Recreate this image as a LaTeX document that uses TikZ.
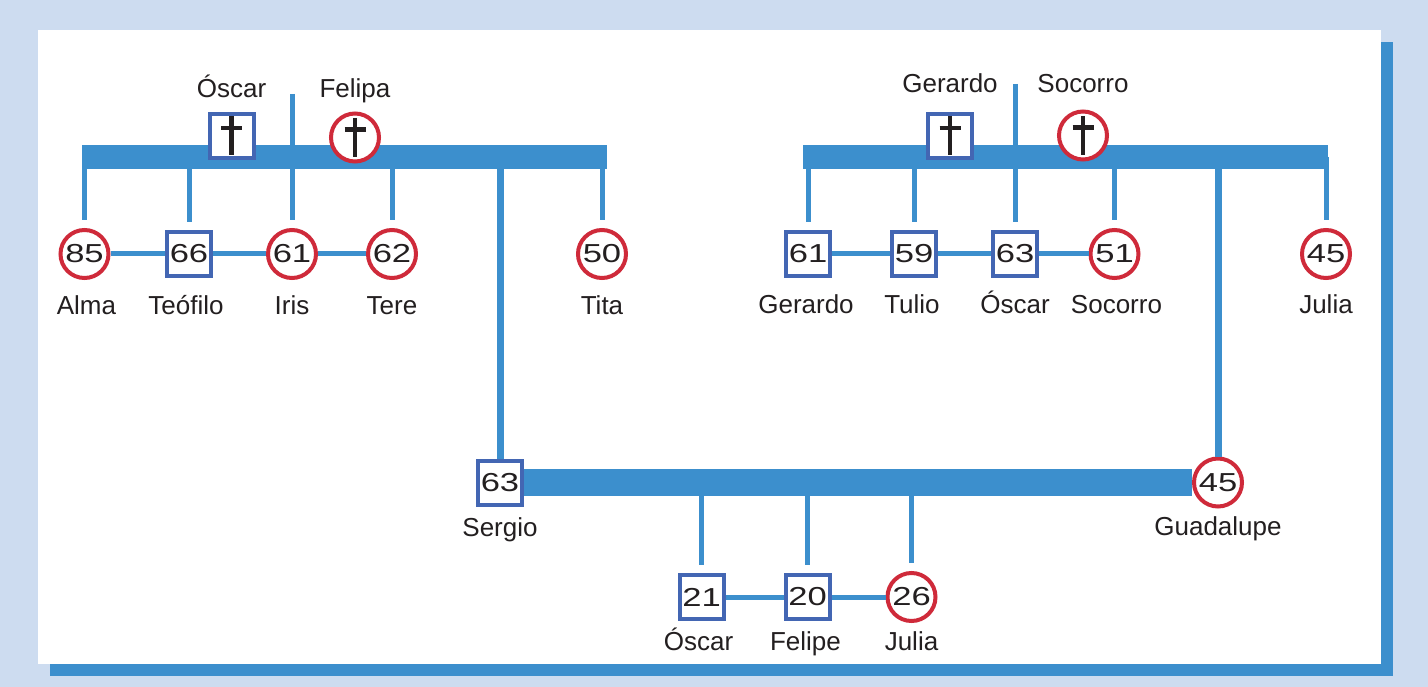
\documentclass[tikz,border=0pt]{standalone}
\usepackage{fontspec}
\setmainfont{Liberation Sans}
\usepackage{graphicx}
\usetikzlibrary{positioning}

\definecolor{pageblue}{HTML}{CDDCF0}
\definecolor{linkblue}{HTML}{3C8FCD}
\definecolor{boyblue}{HTML}{4366B3}
\definecolor{girlred}{HTML}{CF2A3A}
\definecolor{ink}{HTML}{231F20}

\newcommand{\age}[1]{\scalebox{1.33}[1]{#1}}

\tikzset{
  male/.style={rectangle, draw=boyblue, line width=4pt, fill=white, minimum size=44pt,
    inner sep=0pt, text=ink, font=\fontsize{26}{26}\selectfont},
  female/.style={circle, draw=girlred, line width=4pt, fill=white, minimum size=48pt,
    inner sep=0pt, text=ink, font=\fontsize{26}{26}\selectfont},
  who/.style={inner sep=0pt, text=ink, font=\fontsize{26}{30}\selectfont,
    text height=18.5pt, text depth=5pt},
  clan/.style={draw=linkblue, line width=24pt},
  kin/.style={draw=linkblue, line width=5pt},
  stem/.style={kin, line width=7pt},
  drop/.style={kin, shorten >=8pt},
  dag/.style={draw=ink, line width=4.5pt},
}

\begin{document}
\begin{tikzpicture}[x=1pt, y=-1pt, node distance=15pt]
  \useasboundingbox (0,0) rectangle (1428,687);
  % Frame
  \fill[pageblue] (0,0) rectangle (1428,687);
  \fill[linkblue] (50,42) rectangle (1393,676);
  \fill[white]    (38,30) rectangle (1381,664);

  % Family bars
  \coordinate (lW) at (82,157);   \coordinate (lE) at (607,157);
  \coordinate (rW) at (803,157);  \coordinate (rE) at (1328,157);
  \coordinate (lTop) at (292,94); \coordinate (rTop) at (1015,84);
  \draw[clan] (lW) -- (lE);
  \draw[clan] (rW) -- (rE);

  % Left family
  \node[male]   (oscD) at (231.5,136)  {};
  \node[female] (felD) at (355,137.5)  {};
  \node[female] (a85)  at (84.5,254)   {\age{85}};
  \node[male]   (t66)  at (189,254)    {\age{66}};
  \node[female] (i61)  at (292,254)    {\age{61}};
  \node[female] (t62)  at (392,254)    {\age{62}};
  \node[female] (t50)  at (602,254)    {\age{50}};
  \node[who, above=9pt of oscD]   (oscN)  {Óscar};
  \node[who, above=8.5pt of felD] (felN)  {Felipa};
  \node[who, below=16pt of a85, xshift=2pt]  (alma) {Alma};
  \node[who, below=18pt of t66, xshift=-3pt] (teof) {Teófilo};
  \node[who, below=16pt of i61]              (iris) {Iris};
  \node[who, below=16pt of t62]              (tere) {Tere};
  \node[who, below=16pt of t50]              (tita) {Tita};

  % Right family
  \node[male]   (gerD) at (950,136)    {};
  \node[female] (socD) at (1083,135.5) {};
  \node[male]   (g61)  at (808,254)    {\age{61}};
  \node[male]   (t59)  at (914,254)    {\age{59}};
  \node[male]   (o63)  at (1015,254)   {\age{63}};
  \node[female] (s51)  at (1114.5,254) {\age{51}};
  \node[female] (j45)  at (1326,254)   {\age{45}};
  \node[who, above=14pt of gerD]   (gerN) {Gerardo};
  \node[who, above=11.5pt of socD] (socN) {Socorro};
  \node[who, below=17pt of g61, xshift=-2pt] (gera) {Gerardo};
  \node[who, below=17pt of t59, xshift=-2pt] (tuli) {Tulio};
  \node[who, below=17pt of o63]              (osca) {Óscar};
  \node[who, below=of s51, xshift=2pt]       (soco) {Socorro};
  \node[who, below=of j45]                   (juli) {Julia};

  % New family
  \node[male]   (s63) at (500,482.5)   {\age{63}};
  \node[female] (g45) at (1218,482.5)  {\age{45}};
  \node[male]   (o21) at (701.5,597)   {\age{21}};
  \node[male]   (f20) at (807.5,597)   {\age{20}};
  \node[female] (j26) at (911.5,597)   {\age{26}};
  \node[who, below=11pt of s63]              (serg) {Sergio};
  \node[who, below=8pt of g45]               (guad) {Guadalupe};
  \node[who, below=11pt of o21, xshift=-3pt] (oscb) {Óscar};
  \node[who, below=11pt of f20, xshift=-2pt] (feli) {Felipe};
  \node[who, below=9pt of j26]               (julb) {Julia};

  % Connect the nodes
  \draw[drop] (lTop) -- (lTop |- i61.north);
  \draw[drop] (rTop) -- (rTop |- o63.north);
  \foreach \c in {a85,t66,t62,t50} \draw[drop] (\c.north |- lW) -- (\c.north);
  \foreach \c in {g61,t59,s51,j45} \draw[drop] (\c.north |- rW) -- (\c.north);
  \draw[stem] (s63.north |- lW) -- (s63.north);
  \draw[stem] (g45.north |- rW) -- (g45.north);
  \draw[clan, line width=27pt] (s63) -- (g45);
  \foreach \c in {o21,f20,j26} \draw[drop] (\c.north |- s63) -- (\c.north);
  \draw[kin] (a85) -- (t66) -- (i61) -- (t62);
  \draw[kin] (g61) -- (t59) -- (o63) -- (s51);
  \draw[kin] (o21) -- (f20) -- (j26);

  % Crosses
  \foreach \d in {oscD,felD,gerD,socD} {
    \draw[dag] ([yshift=19.5pt]\d.center) -- ([yshift=-19.5pt]\d.center);
    \draw[dag] ([xshift=-10.5pt,yshift=8pt]\d.center) -- ([xshift=10.5pt,yshift=8pt]\d.center);
  }
\end{tikzpicture}
\end{document}
